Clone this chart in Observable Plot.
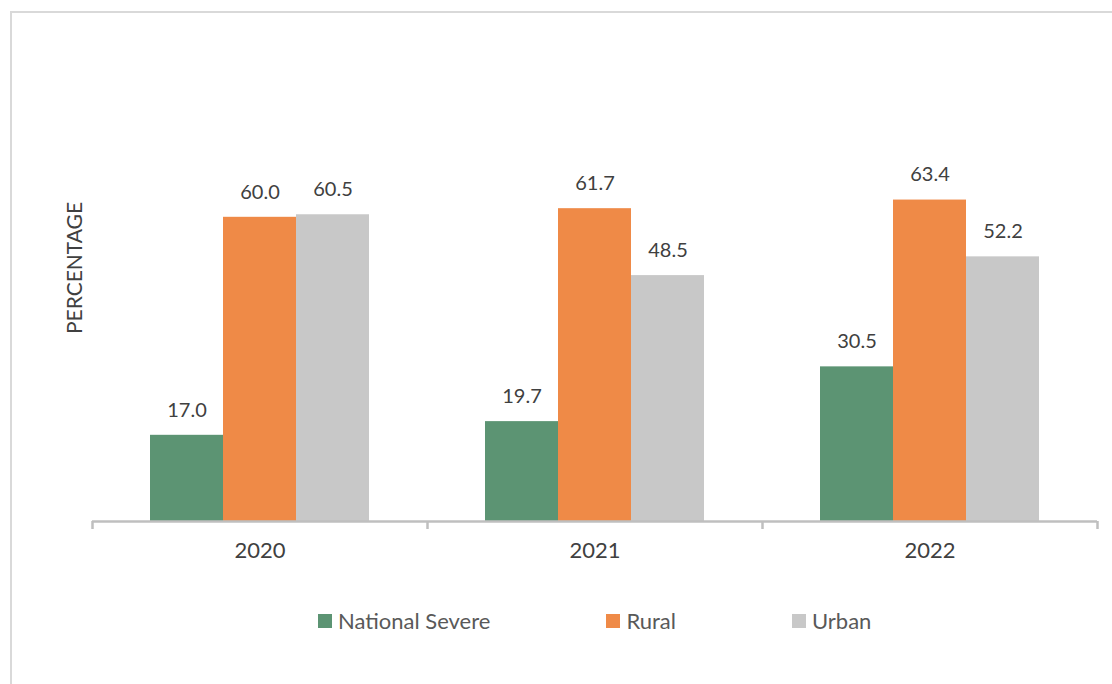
<!DOCTYPE html>
<html>
<head>
<meta charset="utf-8">
<script src="https://cdn.jsdelivr.net/npm/d3@7"></script>
<script src="https://cdn.jsdelivr.net/npm/@observablehq/plot@0.6"></script>
<style>
  html, body { margin: 0; padding: 0; background: #fff; }
  body { width: 1112px; height: 684px; position: relative; overflow: hidden; font-family: Lato, "Open Sans", sans-serif; }
  #frame { position: absolute; left: 10px; top: 11px; width: 1110px; height: 680px; border-left: 2px solid #d9d9d9; border-top: 2px solid #d9d9d9; box-sizing: border-box; }
  #chart { position: absolute; left: 0; top: 0; }
  #legend { position: absolute; left: 318px; top: 608px; display: flex; gap: 116px; font-size: 22px; line-height: 26px; color: #595959; }
  .item { display: flex; align-items: center; }
  .sw { width: 14px; height: 14px; margin-right: 6px; }
</style>
</head>
<body>
<div id="frame"></div>
<div id="chart"></div>
<div id="legend"></div>
<script>
const years = ["2020", "2021", "2022"];
const series = ["National Severe", "Rural", "Urban"];
const nationalSevere = [17.0, 19.7, 30.5];
const rural = [60.0, 61.7, 63.4];
const urban = [60.5, 48.5, 52.2];
const colors = ["#5c9473", "#ef8a47", "#c8c8c8"];
const yLabel = "PERCENTAGE";

const values = [nationalSevere, rural, urban];
const data = [];
years.forEach((yr, i) => series.forEach((s, j) => data.push({year: yr, series: s, value: values[j][i]})));

const chart = Plot.plot({
  width: 1112,
  height: 570,
  marginLeft: 92,
  marginRight: 15,
  marginTop: 14,
  marginBottom: 49,
  style: {fontFamily: "Lato, 'Open Sans', sans-serif", background: "transparent"},
  fx: {domain: years, paddingInner: 0, paddingOuter: 0, label: null},
  x: {domain: series, paddingInner: 0, paddingOuter: 0.7945, axis: null},
  y: {domain: [0, 100], axis: null},
  color: {domain: series, range: colors},
  marks: [
    Plot.barY(data, {fx: "year", x: "series", y: "value", fill: "series"}),
    Plot.text(data, {fx: "year", x: "series", y: "value", text: d => d.value.toFixed(1), dy: -25, fontSize: 20, fill: "#404040"}),
    Plot.ruleY([0], {stroke: "#bfbfbf", strokeWidth: 2.5}),
    Plot.ruleX(years, {fx: d => d, x: () => series[0], y1: 0, y2: 0, insetBottom: -8, dx: -94.5, stroke: "#bfbfbf", strokeWidth: 2.5}),
    Plot.ruleX([years[2]], {fx: d => d, x: () => series[2], y1: 0, y2: 0, insetBottom: -8, dx: 94.5, stroke: "#bfbfbf", strokeWidth: 2.5}),
    Plot.text([yLabel], {fx: () => years[0], text: d => d, frameAnchor: "left", textAnchor: "middle", rotate: -90, dx: -17, fontSize: 21, fill: "#404040"}),
    Plot.axisFx({anchor: "bottom", tickSize: 0, tickPadding: 21, fontSize: 22, color: "#404040", label: null})
  ]
});
document.getElementById("chart").appendChild(chart);

const legend = document.getElementById("legend");
series.forEach((s, i) => {
  const item = document.createElement("div");
  item.className = "item";
  const sw = document.createElement("div");
  sw.className = "sw";
  sw.style.background = colors[i];
  const t = document.createElement("span");
  t.textContent = s;
  item.appendChild(sw);
  item.appendChild(t);
  legend.appendChild(item);
});
</script>
</body>
</html>
